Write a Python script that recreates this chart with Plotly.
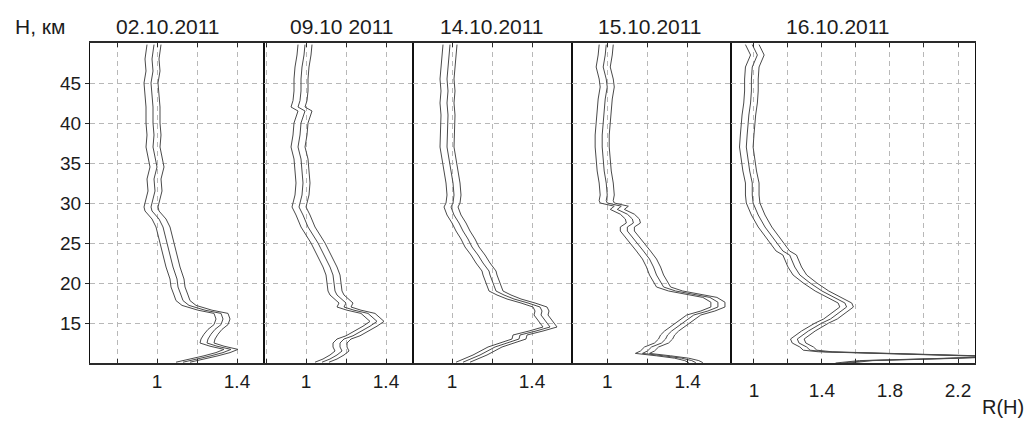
import plotly.graph_objects as go
from plotly.subplots import make_subplots

# ---------------- data ----------------
dates = ["02.10.2011", "09.10 2011", "14.10.2011", "15.10.2011", "16.10.2011"]

h1 = [49.8, 48, 46.5, 45, 43.5, 42, 40, 38.5, 37, 35.5, 34.5, 33, 31.5, 30.5, 29.5, 29, 28, 27, 25, 23.5,
      22, 20.5, 19.5, 18.5, 17.8, 17.2, 16.6, 16.2, 15.5, 14.8, 14.2, 13.6, 13, 12.5, 12.1, 11.7, 11.3, 10.9, 10.5, 10.1]
r1 = [0.985, 0.975, 0.98, 0.97, 0.975, 0.98, 0.98, 0.985, 0.98, 0.99, 1.0, 0.985, 0.99, 0.98, 0.97, 0.975, 1.01, 1.03, 1.05, 1.065,
      1.08, 1.10, 1.105, 1.12, 1.13, 1.16, 1.24, 1.32, 1.33, 1.32, 1.29, 1.27, 1.255, 1.25, 1.30, 1.37, 1.33, 1.27, 1.20, 1.13]

h2 = [49.8, 48.5, 47, 45.5, 44, 42.8, 42, 41.5, 40, 38.5, 37, 35.5, 34, 32.5, 31, 30, 29.5, 28.5, 27, 26, 25, 24, 23,
      22, 21, 20, 19, 18.5, 18, 17.5, 17, 16.6, 16.2, 15.6, 15.2, 14.6, 14, 13.4, 13, 12.5, 12, 11.5, 11, 10.5, 10.1]
r2 = [0.995, 0.99, 0.98, 0.975, 0.975, 0.97, 0.96, 0.995, 0.975, 0.97, 0.96, 0.975, 0.98, 0.985, 0.98, 0.97, 0.965, 0.985, 1.01, 1.035, 1.06, 1.08, 1.10,
      1.12, 1.135, 1.14, 1.145, 1.155, 1.18, 1.20, 1.19, 1.24, 1.31, 1.34, 1.355, 1.32, 1.28, 1.235, 1.19, 1.17, 1.17, 1.18, 1.155, 1.12, 1.08]

h3 = [49.8, 48.5, 47, 45.5, 44, 42.5, 41, 40, 38.5, 37, 35.5, 34, 32.5, 31, 30, 29.5, 28.5, 27.5, 26.5, 25.5, 24.5, 23.5,
      22.5, 21.5, 21, 20, 19, 18.5, 18, 17.5, 17, 16.5, 16, 15.5, 15, 14.5, 14, 13.5, 13, 12.5, 12, 11, 10.1]
r3 = [0.99, 0.985, 0.98, 0.975, 0.98, 0.975, 0.98, 0.978, 0.975, 0.975, 0.985, 0.995, 1.005, 1.01, 1.005, 0.995, 1.01, 1.035, 1.055, 1.08, 1.10, 1.13,
      1.155, 1.185, 1.19, 1.205, 1.22, 1.26, 1.31, 1.38, 1.44, 1.45, 1.445, 1.46, 1.475, 1.49, 1.42, 1.34, 1.335, 1.275, 1.215, 1.14, 1.055]

h4 = [49.8, 48.5, 47, 45.5, 44.5, 43, 41.5, 40, 38.5, 37, 35.5, 34, 32.5, 31, 30.3, 30, 29.6, 29.2, 28.6, 28, 27.5, 27, 26.5,
      25, 24, 23, 22, 21, 20, 19.5, 19, 18.6, 18.2, 17.6, 17, 16.5, 16, 15, 14, 13.5, 13, 12.5, 12, 11.5, 11.2, 10.9, 10.6, 10.3, 10.05]
r4 = [0.995, 0.99, 0.98, 0.995, 1.0, 0.99, 0.985, 0.98, 0.975, 0.975, 0.98, 0.985, 0.995, 1.0, 0.995, 1.0, 1.07, 1.05, 1.10, 1.125, 1.13, 1.10, 1.10,
      1.15, 1.18, 1.21, 1.23, 1.245, 1.27, 1.28, 1.34, 1.43, 1.51, 1.55, 1.55, 1.50, 1.43, 1.375, 1.32, 1.30, 1.29, 1.27, 1.22, 1.20, 1.175, 1.28, 1.37, 1.42, 1.44]

h5 = [49.8, 48.5, 47, 45.5, 44, 42.5, 41, 40, 38.5, 37, 35.5, 34, 32.5, 31, 30, 28.5, 27, 26, 25, 24, 23.5, 22.5,
      22, 21, 20, 19, 18, 17.5, 17, 16.5, 15.5, 15, 14, 13, 12.5, 12, 11.6, 11.4, 11.1, 10.8, 10.55, 10.3, 10.0]
r5 = [0.99, 1.02, 0.99, 0.985, 0.985, 0.98, 0.97, 0.965, 0.96, 0.955, 0.965, 0.975, 0.99, 0.99, 0.995, 1.025, 1.065, 1.10, 1.135, 1.17, 1.21, 1.23,
      1.24, 1.27, 1.33, 1.40, 1.495, 1.535, 1.545, 1.515, 1.45, 1.40, 1.32, 1.255, 1.265, 1.31, 1.33, 1.42, 2.0, 2.45, 2.1, 1.66, 1.52]

heights = [h1, h2, h3, h4, h5]
ratios = [r1, r2, r3, r4, r5]
errors = [0.035, 0.035, 0.035, 0.035, 0.04]

x_ranges = [[0.665, 1.535], [0.79, 1.535], [0.805, 1.60], [0.825, 1.615], [0.865, 2.30]]
x_tickvals = [[0.8, 1, 1.2, 1.4], [0.8, 1, 1.2, 1.4], [0.8, 1, 1.2, 1.4], [0.8, 1, 1.2, 1.4],
              [1, 1.2, 1.4, 1.6, 1.8, 2.0, 2.2]]
x_ticktext = [["", "1", "", "1.4"], ["", "1", "", "1.4"], ["", "1", "", "1.4"], ["", "1", "", "1.4"],
              ["1", "", "1.4", "", "1.8", "", "2.2"]]
y_tickvals = [15, 20, 25, 30, 35, 40, 45]
y_title = "H, км"
x_title = "R(H)"

# ---------------- layout geometry ----------------
W, H = 1029, 421
L, R, T, B = 90, 975, 43, 363
borders = [90, 264, 413, 572, 731, 975]
col_w = [borders[i + 1] - borders[i] for i in range(5)]

FONT = "Liberation Sans, Arial, sans-serif"
TXT = "#1c1c1c"
LINE = "#4a4a4a"
GRID = "#b8b8b8"

fig = make_subplots(rows=1, cols=5, shared_yaxes=True, horizontal_spacing=0,
                    column_widths=col_w)

for i in range(5):
    lo = [v - errors[i] for v in ratios[i]]
    hi = [v + errors[i] for v in ratios[i]]
    for xs in (lo, ratios[i], hi):
        fig.add_trace(go.Scatter(x=xs, y=heights[i], mode="lines",
                                 line=dict(color=LINE, width=1), showlegend=False,
                                 hoverinfo="skip"), row=1, col=i + 1)
    fig.update_xaxes(range=x_ranges[i], tickmode="array", tickvals=x_tickvals[i],
                     ticktext=x_ticktext[i], showgrid=True, gridcolor=GRID,
                     griddash="5px,4px", gridwidth=1, zeroline=False,
                     showline=True, linecolor="#2a2a2a", linewidth=2, mirror="ticks",
                     ticks="inside", ticklen=4, tickcolor="#2a2a2a",
                     tickfont=dict(family=FONT, size=19, color=TXT),
                     ticklabelstandoff=(9 if i == 4 else 0), automargin=False,
                     row=1, col=i + 1)
    fig.update_yaxes(range=[10, 50], tickmode="array", tickvals=y_tickvals,
                     showgrid=True, gridcolor=GRID, griddash="5px,4px", gridwidth=1,
                     zeroline=False, showline=True, linecolor="#111111", linewidth=1,
                     mirror=True, automargin=False,
                     ticks=("outside" if i == 0 else ""), ticklen=4, tickcolor="#2a2a2a",
                     showticklabels=(i == 0),
                     tickfont=dict(family=FONT, size=19, color=TXT),
                     row=1, col=i + 1)


def px(x):
    return (x - L) / (R - L)


def py(y):
    return (B - y) / (B - T)


title_x = [168, 342, 492, 650, 838]
annotations = []
for d, tx in zip(dates, title_x):
    annotations.append(dict(text=d, x=px(tx), y=py(27), xref="paper", yref="paper",
                            xanchor="center", yanchor="middle", showarrow=False,
                            font=dict(family=FONT, size=21, color=TXT)))
annotations.append(dict(text=y_title, x=px(40), y=py(27), xref="paper", yref="paper",
                        xanchor="center", yanchor="middle", showarrow=False,
                        font=dict(family=FONT, size=21, color=TXT)))
annotations.append(dict(text=x_title, x=px(1003), y=py(407), xref="paper", yref="paper",
                        xanchor="center", yanchor="middle", showarrow=False,
                        font=dict(family=FONT, size=20, color=TXT)))

fig.update_layout(width=W, height=H, margin=dict(l=L, r=W - R, t=T, b=H - B),
                  paper_bgcolor="white", plot_bgcolor="white",
                  annotations=annotations, showlegend=False)

fig.write_html("out.html", config={"displayModeBar": False},
               post_script="document.body.style.margin='0';document.body.style.padding='0';"
                           "document.body.style.overflow='hidden';")
